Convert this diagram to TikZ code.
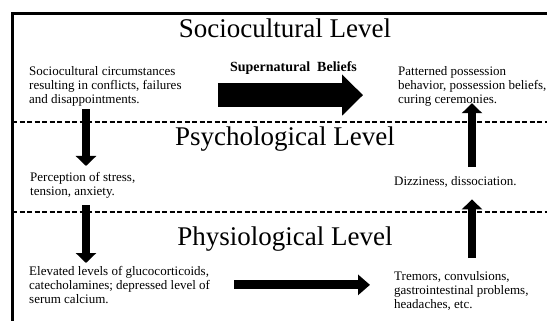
\documentclass[tikz,border=0pt]{standalone}
\usepackage{fontspec}
\setmainfont{Liberation Serif}
\usepackage{tikz}
\usetikzlibrary{arrows.meta,positioning,calc}
\newcommand{\levelsize}{\fontsize{27}{30}\selectfont}
\newcommand{\descsize}{\fontsize{13}{14}\selectfont}
\tikzstyle{frame} = [line width=3pt]
\tikzstyle{divider} = [line width=2.5pt, dash pattern=on 5pt off 2.5pt]
\tikzstyle{level} = [font=\levelsize, inner sep=0pt, anchor=base]
\tikzstyle{desc} = [font=\descsize, inner sep=0pt, anchor=north west, align=left]
\tikzstyle{fatarrow} = [line width=8.5pt, -{Triangle[length=10pt,width=20pt]}]
\tikzstyle{bigarrow} = [line width=24pt, -{Triangle[length=21pt,width=40pt]}]
\tikzstyle{midarrow} = [line width=9pt, -{Triangle[length=12pt,width=20pt]}]

\begin{document}
\begin{tikzpicture}[x=1pt, y=-1pt]
    \useasboundingbox (0,0) rectangle (547,321);

    % Frame and level dividers
    \draw[frame] (12,321) -- (12,13.5) -- (547,13.5);
    \draw[divider] (12,122) -- (547,122);
    \draw[divider] (12,212) -- (547,212);

    % Level titles
    \node[level] (socio) at (285,38) {Sociocultural Level};
    \node[level] (psycho) at (285,146) {Psychological Level};
    \node[level] (physio) at (285,245) {Physiological Level};

    % Sociocultural level
    \node[desc] (circ) at (29,66) {Sociocultural circumstances\\resulting in conflicts, failures\\and disappointments.};
    \node[desc] (poss) at (398,66) {Patterned possession\\behavior, possession beliefs,\\curing ceremonies.};
    \node[font=\bfseries\fontsize{14}{16}\selectfont, inner sep=0pt, anchor=base] (belief) at (293.5,72) {Supernatural\ \ Beliefs};
    \draw[bigarrow, shorten >=35pt] ([xshift=36pt,yshift=-9pt]circ.east) coordinate (b) -- (poss.west |- b);

    % Psychological level
    \node[desc] (stress) at (30,172) {Perception of stress,\\tension, anxiety.};
    \node[desc] (dizzy) at (394,176) {Dizziness, dissociation.};

    % Physiological level
    \node[desc] (gluco) at (29,266) {Elevated levels of glucocorticoids,\\catecholamines; depressed level of\\serum calcium.};
    \node[desc] (tremor) at (394,271) {Tremors, convulsions,\\gastrointestinal problems,\\headaches, etc.};
    \draw[midarrow, shorten >=24pt] ([xshift=24pt]gluco.east) coordinate (g) -- (tremor.west |- g);

    % Arrows between levels
    \draw[fatarrow, shorten >=6pt] ([xshift=57pt,yshift=-3pt]circ.south west) coordinate (d1) -- (d1 |- stress.north);
    \draw[fatarrow, shorten >=3pt] ([xshift=56pt,yshift=-7pt]stress.south west) coordinate (d2) -- (d2 |- gluco.north);
    \draw[fatarrow, shorten >=-3pt] ([xshift=78pt,yshift=9pt]dizzy.north west) coordinate (u1) -- (u1 |- poss.south);
    \draw[fatarrow, shorten >=12pt] ([xshift=78pt,yshift=13pt]tremor.north west) coordinate (u2) -- (u2 |- dizzy.south);
\end{tikzpicture}
\end{document}
